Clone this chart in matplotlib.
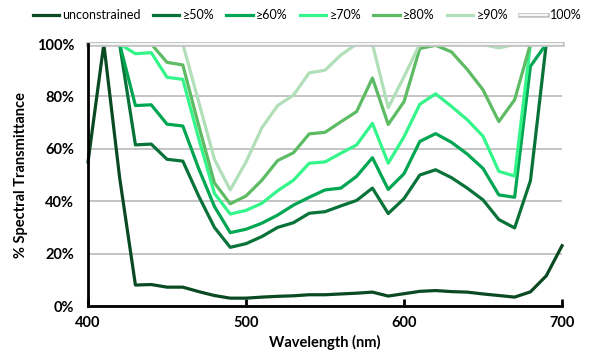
import matplotlib.pyplot as plt
import matplotlib.patheffects as pe
from matplotlib.ticker import PercentFormatter

plt.rcParams['font.family'] = ['Lato', 'DejaVu Sans']

wavelength = list(range(400, 701, 10))

unconstrained = [55, 100, 49, 8, 8.2, 7.2, 7.2, 5.5, 4, 3, 3, 3.4, 3.7, 3.9, 4.3, 4.3,
                 4.6, 4.9, 5.3, 3.8, 4.7, 5.6, 5.9, 5.5, 5.3, 4.6, 4, 3.4, 5.4, 11.5, 23]
ge50 = [100, 100, 100, 61.5, 61.8, 56, 55.3, 42, 30, 22.4, 23.8, 26.5, 30, 31.8, 35.4, 36,
        38.2, 40.3, 45, 35.3, 41, 50, 52, 49, 45, 40.5, 33, 29.8, 47.8, 100, 100]
ge60 = [100, 100, 100, 76.5, 76.8, 69.4, 68.7, 52.5, 38, 28, 29.3, 31.6, 34.7, 38.5, 41.5, 44.3,
        45, 49.5, 56.6, 44.5, 50.5, 62.8, 65.8, 62.5, 58, 52.5, 42.4, 41.5, 91.5, 100, 100]
ge70 = [100, 100, 100, 96.3, 96.7, 87.3, 86.5, 64, 43, 35.1, 36.5, 39.2, 44, 48, 54.5, 55,
        58.3, 61.5, 69.7, 54.5, 64.6, 77, 81, 76.2, 71.1, 64.8, 51.4, 49.6, 100, 100, 100]
ge80 = [100, 100, 100, 100, 100, 93, 92, 69, 47, 39, 42, 48, 55.5, 58.5, 65.7, 66.3,
        70.3, 74.2, 87, 69.3, 78, 98.3, 99.5, 97, 90.3, 82.5, 70.4, 78.7, 100, 100, 100]
ge90 = [100, 100, 100, 100, 100, 100, 100, 78, 56, 44.3, 55, 68, 76.5, 80.5, 89, 90,
        95.8, 100, 100, 75.7, 87.5, 100, 100, 100, 100, 99.8, 98.5, 99.8, 100, 100, 100]
full = [100] * 31

series = [unconstrained, ge50, ge60, ge70, ge80, ge90]
labels = ['unconstrained', '≥50%', '≥60%', '≥70%', '≥80%', '≥90%']
colors = ['#0a4a23', '#087238', '#00a651', '#33f58a', '#5dbb63', '#b0dfb8']

fig = plt.figure(figsize=(5.96, 3.64), dpi=100)
ax = fig.add_axes([0.1477, 0.1593, 0.7953, 0.7198])

for y, lab, c in zip(series, labels, colors):
    ax.plot(wavelength, y, color=c, lw=2.3, label=lab, clip_on=False)
ax.plot(wavelength, full, color='white', lw=1.2, label='100%', clip_on=False,
        path_effects=[pe.Stroke(linewidth=3.4, foreground='#c4c4c4'), pe.Normal()])

ax.set_xlim(400, 700)
ax.set_ylim(0, 100)
ax.set_xticks([400, 500, 600, 700])
ax.set_yticks([0, 20, 40, 60, 80, 100])
ax.yaxis.set_major_formatter(PercentFormatter(decimals=0))
ax.grid(axis='y', color='#bfbfbf', lw=1.3)
ax.set_axisbelow(True)
for s in ['top', 'right']:
    ax.spines[s].set_visible(False)
for s in ['left', 'bottom']:
    ax.spines[s].set_linewidth(2)
ax.tick_params(axis='x', direction='in', length=5, width=2, labelsize=10.5, pad=7)
ax.tick_params(axis='y', length=0, labelsize=10.5, pad=10)
for t in ax.get_xticklabels() + ax.get_yticklabels():
    t.set_fontweight('bold')

ax.set_xlabel('Wavelength (nm)', fontsize=10.5, fontweight='bold', labelpad=4)
ax.set_ylabel('% Spectral Transmittance', fontsize=10.5, fontweight='bold', labelpad=6)

fig.legend(loc='upper center', bbox_to_anchor=(0.515, 1.005), ncol=7, frameon=False,
           fontsize=9, handlelength=2.1, handletextpad=0.25, columnspacing=1.0)

fig.savefig('out.png', dpi=100)
